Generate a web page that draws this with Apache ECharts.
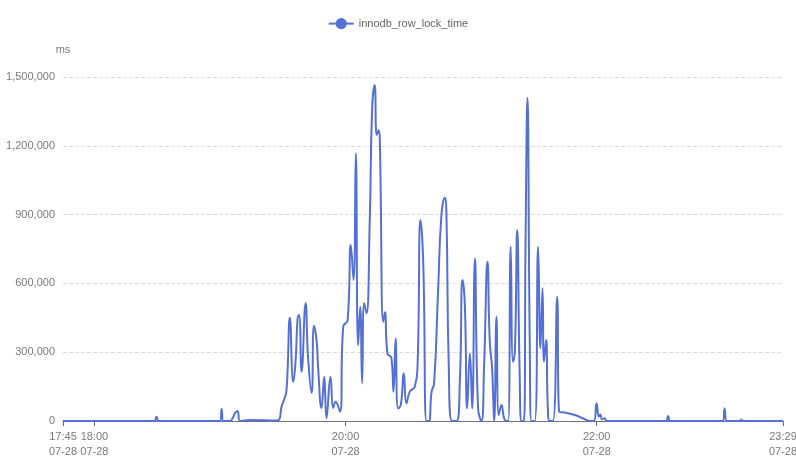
<!DOCTYPE html>
<html>
<head>
<meta charset="utf-8">
<script src="https://cdn.jsdelivr.net/npm/echarts@6/dist/echarts.min.js"></script>
<style>
html,body{margin:0;padding:0;background:#fff;}
#chart{width:796px;height:457px;}
</style>
</head>
<body>
<div id="chart"></div>
<script>
const seriesName = 'innodb_row_lock_time';
const yUnit = 'ms';
// x positions: minutes after 17:45 (07-28)
const tickMinutes = [0, 15, 135, 255, 344];
const tickLabels = ['17:45\n07-28', '18:00\n07-28', '20:00\n07-28', '22:00\n07-28', '23:29\n07-28'];
const minutes = [
  0, 43.5, 44.7, 45.8, 75.0, 75.8, 76.6, 79.8, 81.2, 82.1, 83.4, 84.5, 89.3, 96.5, 101.7,
  103.2, 104.4, 105.5, 106.8, 108.4, 110.0, 111.1, 112.1, 112.8, 114.0, 115.9, 117.1, 118.8,
  119.9, 121.2, 121.9, 123.5, 124.8, 125.9, 127.8, 129.1, 130.2, 132.3, 133.9, 136.0, 137.5,
  138.8, 139.9, 141.0, 142.0, 142.9, 143.9, 145.0, 146.6, 147.7, 148.9, 149.9, 150.9, 151.4,
  153.0, 153.8, 155.0, 156.9, 157.9, 158.9, 160.1, 161.4, 162.8, 164.1, 165.7, 168.1, 169.4,
  170.8, 172.1, 173.7, 174.8, 176.1, 177.3, 179.2, 180.8, 182.4, 183.2, 184.3, 185.9, 188.0,
  189.6, 190.9, 192.0, 193.1, 194.4, 195.5, 196.8, 198.3, 199.9, 201.2, 202.8, 203.9, 205.0,
  206.0, 207.1, 208.2, 209.5, 210.7, 211.9, 212.7, 213.9, 215.0, 215.9, 217.0, 218.2, 219.1,
  220.2, 221.0, 221.9, 223.0, 223.8, 225.4, 227.0, 228.1, 229.1, 229.8, 230.8, 231.7, 232.6,
  234.1, 236.1, 237.0, 239.7, 244.5, 249.3, 251.7, 253.6, 254.9, 256.0, 256.7, 257.6, 258.8,
  259.8, 288.0, 289.1, 290.1, 315.2, 316.1, 317.1, 323.3, 324.1, 325.2, 344
];
const values = [
  0, 0, 19000, 0, 0, 52000, 0, 0, 15000, 33000, 44000, 0, 4000, 3000, 2000,
  5000, 62000, 90000, 135000, 450000, 171000, 258000, 449000, 462000, 215000, 513000, 275000, 122000,
  415000, 346000, 231000, 57000, 193000, 13000, 193000, 57000, 84000, 41000, 411000, 440000, 767000,
  615000, 1167000, 331000, 498000, 164000, 513000, 470000, 891000, 1363000, 1465000, 1247000, 1268000, 1210000,
  433000, 474000, 295000, 275000, 128000, 360000, 55000, 70000, 208000, 77000, 128000, 150000, 244000,
  876000, 694000, 0, 0, 128000, 164000, 564000, 898000, 974000, 898000, 244000, 0, 0,
  171000, 615000, 506000, 55000, 295000, 55000, 709000, 57000, 0, 244000, 694000, 346000, 231000,
  0, 455000, 26000, 70000, 13000, 0, 0, 760000, 258000, 302000, 833000, 200000, 0,
  0, 782000, 1410000, 346000, 0, 0, 760000, 317000, 579000, 258000, 353000, 41000, 0,
  0, 542000, 41000, 37000, 26000, 8000, 0, 0, 77000, 20000, 28000, 8000, 12000,
  0, 0, 22000, 0, 0, 55000, 0, 0, 5000, 0, 0
];
const yTicks = [0, 300000, 600000, 900000, 1200000, 1500000];

const FONT = '"Liberation Sans", Arial, sans-serif';
const FS = 11;
const chart = echarts.init(document.getElementById('chart'));
chart.setOption({
  animation: false,
  textStyle: { fontFamily: FONT },
  legend: {
    top: 13,
    left: 'center',
    itemWidth: 25,
    itemHeight: 14,
    textStyle: { color: '#666', fontSize: FS, fontFamily: FONT },
    data: [seriesName]
  },
  grid: { left: 63, right: 13, top: 77, bottom: 36, outerBoundsMode: 'none', containLabel: false },
  xAxis: {
    type: 'value',
    min: tickMinutes[0],
    max: tickMinutes[tickMinutes.length - 1],
    splitLine: { show: false },
    axisLine: { lineStyle: { color: '#6e7079' } },
    axisTick: { show: true, customValues: tickMinutes, lineStyle: { color: '#6e7079' } },
    axisLabel: {
      customValues: tickMinutes,
      showMinLabel: true,
      showMaxLabel: true,
      hideOverlap: false,
      color: '#7a7a7a',
      fontSize: FS,
      lineHeight: 15,
      fontFamily: FONT,
      margin: 8,
      formatter: function (v) {
        const i = tickMinutes.indexOf(v);
        return i >= 0 ? tickLabels[i] : '';
      }
    }
  },
  yAxis: {
    type: 'value',
    name: yUnit,
    nameGap: 22,
    nameTextStyle: { color: '#7a7a7a', fontSize: FS, fontFamily: FONT, align: 'center' },
    min: yTicks[0],
    max: yTicks[yTicks.length - 1],
    interval: yTicks[1] - yTicks[0],
    axisLine: { show: false },
    axisTick: { show: false },
    axisLabel: { color: '#7a7a7a', fontSize: FS, fontFamily: FONT, margin: 8 },
    splitLine: { lineStyle: { type: 'dashed', color: '#dcdcdc' } }
  },
  series: [{
    name: seriesName,
    type: 'line',
    smooth: true,
    symbol: 'circle',
    symbolSize: 8,
    showSymbol: false,
    itemStyle: { color: '#5470d6' },
    lineStyle: { width: 2, color: '#5470d6' },
    data: minutes.map((m, i) => [m, values[i]])
  }]
});
</script>
</body>
</html>
